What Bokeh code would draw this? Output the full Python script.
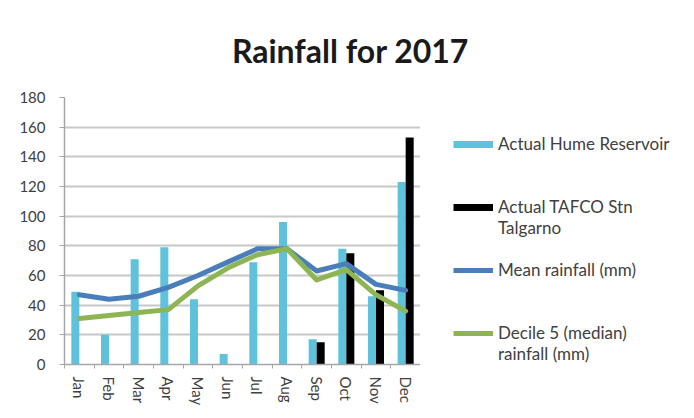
from bokeh.plotting import figure
from bokeh.layouts import column, row
from bokeh.models import ColumnDataSource, FixedTicker, Legend, LegendItem, Range1d, Label
from bokeh.embed import file_html
from bokeh.resources import INLINE

months = ["Jan", "Feb", "Mar", "Apr", "May", "Jun", "Jul", "Aug", "Sep", "Oct", "Nov", "Dec"]
hume_reservoir = [49, 20, 71, 79, 44, 7, 69, 96, 17, 78, 46, 123]
tafco_talgarno = [None, None, None, None, None, None, None, None, 15, 75, 50, 153]
mean_rainfall = [47, 44, 46, 52, 60, 69, 78, 78, 63, 68, 54, 50]
decile5_rainfall = [31, 33, 35, 37, 53, 65, 74, 78, 57, 64, 47, 36]
y_ticks = [0, 20, 40, 60, 80, 100, 120, 140, 160, 180]

FONT = "Lato"
TXT = "#404040"
HUME_C = "#5ec2dd"
TAFCO_C = "#000000"
MEAN_C = "#4a7ebb"
DEC_C = "#8db553"

xc = [i + 0.5 for i in range(len(months))]
bw = 0.27

src_h = ColumnDataSource(dict(x=[v - bw / 2 for v in xc], top=hume_reservoir))
tx = [xc[i] + bw / 2 for i, v in enumerate(tafco_talgarno) if v is not None]
tt = [v for v in tafco_talgarno if v is not None]
src_t = ColumnDataSource(dict(x=tx, top=tt))
src_l = ColumnDataSource(dict(x=xc, mean=mean_rainfall, dec=decile5_rainfall))

# ---- title strip ----
tf = figure(width=686, height=70, output_backend="svg", toolbar_location=None,
            x_range=Range1d(0, 686), y_range=Range1d(0, 70),
            x_axis_type=None, y_axis_type=None, min_border=0)
tf.outline_line_color = None
tf.grid.visible = False
tf.add_layout(Label(x=350, y=20, x_units="screen", y_units="screen", text="Rainfall for 2017",
                    text_align="center", text_baseline="alphabetic", text_font=FONT,
                    text_font_size="32px", text_font_style="bold", text_color="#1a1a1a"))

# ---- main plot ----
p = figure(width=420, height=340, output_backend="svg", toolbar_location=None,
           x_range=Range1d(0, 12), y_range=Range1d(0, 180),
           min_border_left=64, min_border_right=0, min_border_top=27, min_border_bottom=46)
p.outline_line_color = None

r_h = p.vbar(x="x", top="top", width=bw, source=src_h, fill_color=HUME_C, line_color=None)
r_t = p.vbar(x="x", top="top", width=bw, source=src_t, fill_color=TAFCO_C, line_color=None)
r_m = p.line(x="x", y="mean", source=src_l, line_width=5, line_color=MEAN_C, line_join="round", line_cap="round")
r_d = p.line(x="x", y="dec", source=src_l, line_width=5, line_color=DEC_C, line_join="round", line_cap="round")

p.xaxis.ticker = FixedTicker(ticks=xc, minor_ticks=list(range(13)))
p.xaxis.major_label_overrides = {xc[i]: m for i, m in enumerate(months)}
p.xaxis.major_label_orientation = "vertical"
p.xaxis.major_tick_out = 0
p.xaxis.major_tick_in = 0
p.xaxis.minor_tick_out = 4
p.xaxis.minor_tick_in = 0
p.xaxis.minor_tick_line_color = "#a6a6a6"
p.xaxis.major_label_standoff = 8
p.xgrid.visible = False

p.yaxis.ticker = FixedTicker(ticks=y_ticks)
p.yaxis.minor_tick_line_color = None
p.yaxis.major_tick_out = 5
p.yaxis.major_tick_in = 0
p.yaxis.major_tick_line_color = "#a6a6a6"
p.yaxis.major_label_standoff = 14

for ax in (p.xaxis[0], p.yaxis[0]):
    ax.axis_line_color = "#a6a6a6"
    ax.axis_line_width = 1.5
    ax.major_label_text_font = FONT
    ax.major_label_text_font_size = "15px"
    ax.major_label_text_color = TXT

p.ygrid.grid_line_color = "#c8c8c8"
p.ygrid.grid_line_width = 2

# ---- legend panel ----
lf = figure(width=266, height=340, output_backend="svg", toolbar_location=None,
            x_range=Range1d(0, 1), y_range=Range1d(0, 1),
            x_axis_type=None, y_axis_type=None, min_border=0)
lf.outline_line_color = None
lf.grid.visible = False

px_h = lf.line(x="x", y="top", source=src_h, line_width=7, line_color=HUME_C, visible=False)
px_t = lf.line(x="x", y="top", source=src_t, line_width=7, line_color=TAFCO_C, visible=False)
px_m = lf.line(x="x", y="mean", source=src_l, line_width=5, line_color=MEAN_C, visible=False)
px_d = lf.line(x="x", y="dec", source=src_l, line_width=5, line_color=DEC_C, visible=False)
px_blank = lf.line(x="x", y="top", source=src_t, line_alpha=0, visible=False)

rows = [
    ("Actual Hume Reservoir", px_h),
    (" ", px_blank),
    (" ", px_blank),
    ("Actual TAFCO Stn", px_t),
    ("Talgarno", px_blank),
    (" ", px_blank),
    ("Mean rainfall (mm)", px_m),
    (" ", px_blank),
    (" ", px_blank),
    ("Decile 5 (median)", px_d),
    ("rainfall (mm)", px_blank),
]
legend = Legend(items=[LegendItem(label=t, renderers=[r]) for t, r in rows],
                location=(33, 0), glyph_width=40, glyph_height=8, label_height=21, spacing=0,
                padding=0, margin=0, border_line_color=None, background_fill_alpha=0,
                label_text_font=FONT, label_text_font_size="17px", label_text_color=TXT,
                label_standoff=5)
lf.add_layout(legend)

layout = column(tf, row(p, lf, spacing=0), spacing=0)
open("out.html", "w").write(file_html(layout, INLINE))
